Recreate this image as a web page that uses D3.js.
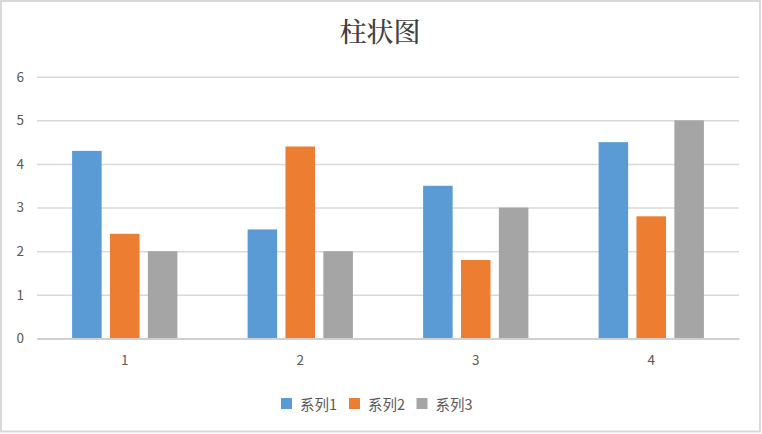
<!DOCTYPE html>
<html lang="zh">
<head>
<meta charset="UTF-8">
<title>柱状图</title>
<style>
  html, body { margin: 0; padding: 0; background: #fff; }
  svg { display: block; }
  text { font-family: "Noto Sans CJK SC", "Noto Sans", sans-serif; fill: #595959; }
  .title { font-family: "Noto Serif CJK SC", "Noto Sans CJK SC", serif; fill: #404040; font-weight: 500; }
</style>
</head>
<body>
<svg width="762" height="434"></svg>
<script src="https://d3js.org/d3.v7.min.js"></script>
<script>
  const categories = ["1", "2", "3", "4"];
  const seriesNames = ["系列1", "系列2", "系列3"];
  const series1 = [4.3, 2.5, 3.5, 4.5];
  const series2 = [2.4, 4.4, 1.8, 2.8];
  const series3 = [2, 2, 3, 5];
  const yTicks = [0, 1, 2, 3, 4, 5, 6];
  const colors = ["#5B9BD5", "#ED7D31", "#A5A5A5"];

  const width = 762, height = 434;
  const plotLeft = 37, plotRight = 739, plotTop = 76.7, plotBottom = 338.5;

  const svg = d3.select("svg");

  // outer frame
  svg.append("rect")
    .attr("x", 1).attr("y", 1)
    .attr("width", width - 3).attr("height", height - 3.5)
    .attr("fill", "#fff")
    .attr("stroke", "#D9D9D9")
    .attr("stroke-width", 2);

  svg.append("text")
    .attr("class", "title")
    .attr("x", 380)
    .attr("y", 42)
    .attr("text-anchor", "middle")
    .style("font-size", "27px")
    .text("柱状图");

  const x0 = d3.scaleBand()
    .domain(categories)
    .range([plotLeft, plotRight])
    .paddingInner(0.4)
    .paddingOuter(0.2);

  const x1 = d3.scaleBand()
    .domain(seriesNames)
    .range([0, x0.bandwidth()])
    .paddingInner(0.22);

  const y = d3.scaleLinear()
    .domain([0, 6])
    .range([plotBottom, plotTop]);

  // gridlines
  const yAxis = d3.axisLeft(y)
    .tickValues(yTicks)
    .tickSize(-(plotRight - plotLeft))
    .tickPadding(13)
    .tickFormat(d3.format("d"));

  const gy = svg.append("g")
    .attr("transform", `translate(${plotLeft},0)`)
    .call(yAxis);
  gy.select(".domain").remove();
  gy.selectAll(".tick line")
    .attr("stroke", "#D9D9D9")
    .attr("stroke-width", 1.5);
  gy.selectAll(".tick text")
    .attr("fill", "#595959")
    .style("font-size", "13.5px");

  const data = categories.map((c, i) => ({
    cat: c,
    values: [series1[i], series2[i], series3[i]]
  }));

  const groups = svg.append("g")
    .selectAll("g")
    .data(data)
    .enter()
    .append("g")
    .attr("transform", d => `translate(${x0(d.cat)},0)`);

  groups.selectAll("rect")
    .data(d => d.values.map((v, j) => ({ name: seriesNames[j], value: v, j: j })))
    .enter()
    .append("rect")
    .attr("x", d => x1(d.name))
    .attr("width", x1.bandwidth())
    .attr("y", d => y(d.value))
    .attr("height", d => y(0) - y(d.value))
    .attr("fill", d => colors[d.j]);

  // category axis
  const xAxis = d3.axisBottom(x0).tickSize(0).tickPadding(17);
  const gx = svg.append("g")
    .attr("transform", `translate(0,${plotBottom})`)
    .call(xAxis);
  gx.select(".domain")
    .attr("stroke", "#D0D0D0")
    .attr("stroke-width", 2);
  gx.selectAll(".tick text")
    .attr("fill", "#595959")
    .style("font-size", "13.5px");

  // legend
  const legendX = [281, 349, 416.5];
  const legend = svg.append("g")
    .selectAll("g")
    .data(seriesNames)
    .enter()
    .append("g")
    .attr("transform", (d, i) => `translate(${legendX[i]},398)`);

  legend.append("rect")
    .attr("width", 11)
    .attr("height", 11)
    .attr("fill", (d, i) => colors[i]);

  legend.append("text")
    .attr("x", 19)
    .attr("y", 11.5)
    .style("font-size", "14.5px")
    .text(d => d);
</script>
</body>
</html>
